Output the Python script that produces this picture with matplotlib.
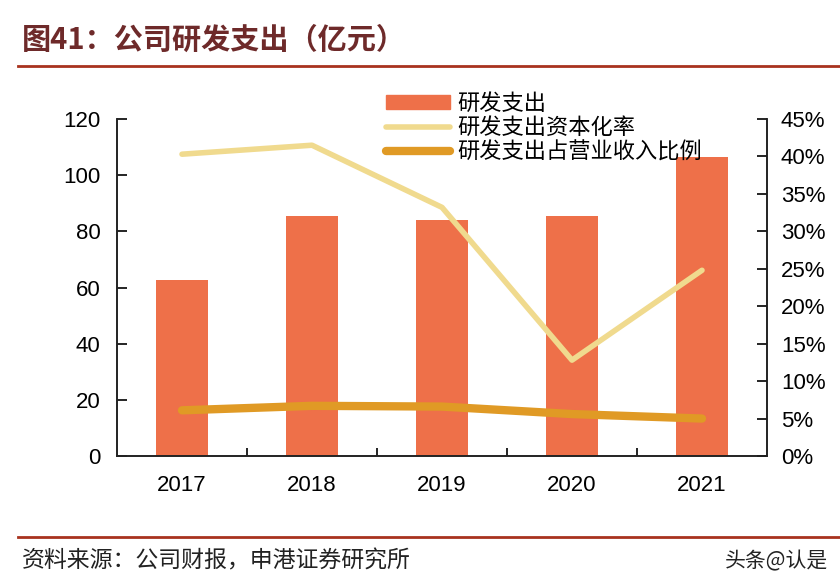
import matplotlib
matplotlib.use("Agg")
import matplotlib.pyplot as plt
from matplotlib.patches import Patch
from matplotlib.lines import Line2D

plt.rcParams['font.family'] = ['Liberation Sans', 'Noto Sans CJK SC', 'DejaVu Sans']

years = ['2017', '2018', '2019', '2020', '2021']
rd_spend = [62.7, 85.4, 84.0, 85.6, 106.4]          # 亿元
cap_rate = [0.403, 0.415, 0.332, 0.128, 0.248]      # 研发支出资本化率
rev_ratio = [0.061, 0.067, 0.066, 0.056, 0.050]     # 研发支出占营业收入比例

bar_color = '#EE7049'
light_color = '#F0DA8E'
orange_color = '#E09A25'
cjk = ['Noto Sans CJK SC', 'DejaVu Sans']

fig = plt.figure(figsize=(8.4, 5.88), dpi=100)
ax = fig.add_axes([117/840, 1-456/588, 650/840, 337/588])
ax2 = ax.twinx()

x = list(range(len(years)))
ax.bar(x, rd_spend, width=0.4, color=bar_color, zorder=2)
ax2.plot(x, cap_rate, color=light_color, lw=4, solid_capstyle='round', zorder=3)
ax2.plot(x, rev_ratio, color=orange_color, lw=6, solid_capstyle='round', zorder=3)

ax.set_xlim(-0.5, 4.5)
ax.set_ylim(0, 120)
ax.set_yticks(range(0, 121, 20))
ax2.set_ylim(0, 0.45)
ax2.set_yticks([i * 0.05 for i in range(10)])
ax2.set_yticklabels([f'{i*5}%' for i in range(10)])

ax.set_xticks(x)
ax.set_xticklabels(years)
ax.set_xticks([0.5, 1.5, 2.5, 3.5], minor=True)
ax.tick_params(axis='x', which='major', length=0, labelsize=16, pad=14)
ax.tick_params(axis='x', which='minor', direction='in', length=6, width=1.2)
ax.tick_params(axis='y', direction='in', length=7, width=1.2, labelsize=16, pad=12)
ax2.tick_params(axis='y', direction='in', length=7, width=1.2, labelsize=16, pad=10)

for a in (ax, ax2):
    a.spines['top'].set_visible(False)
    for s in ('left', 'right', 'bottom'):
        a.spines[s].set_linewidth(1.2)
        a.spines[s].set_color('#222222')

handles = [Patch(color=bar_color),
           Line2D([], [], color=light_color, lw=4, solid_capstyle='round'),
           Line2D([], [], color=orange_color, lw=6, solid_capstyle='round')]
labels = ['研发支出', '研发支出资本化率', '研发支出占营业收入比例']
fig.legend(handles, labels, loc='upper left', bbox_to_anchor=(377/840, 1-83/588),
           frameon=False, prop={'family': cjk, 'size': 16}, handlelength=2.9,
           handleheight=0.55, labelspacing=0.05, handletextpad=0.3, borderaxespad=0)

# title and decorations
fig.text(22/840, 1-40/588, '图41：公司研发支出（亿元）', fontsize=21, fontweight='bold',
         color='#6E2A2A', family=cjk, va='center', ha='left')
fig.add_artist(Line2D([18/840, 1.0], [1-66/588, 1-66/588], color='#A8321E', lw=2))
fig.add_artist(Line2D([18/840, 1.0], [1-537/588, 1-537/588], color='#A8321E', lw=2))
fig.text(22/840, 1-561/588, '资料来源：公司财报，申港证券研究所', fontsize=16.5,
         color='#222222', family=cjk, va='center', ha='left', style='italic')
fig.text(828/840, 1-561/588, '头条@认是', fontsize=15, color='#222222', family=cjk,
         va='center', ha='right')

fig.savefig('out.png', dpi=100)
